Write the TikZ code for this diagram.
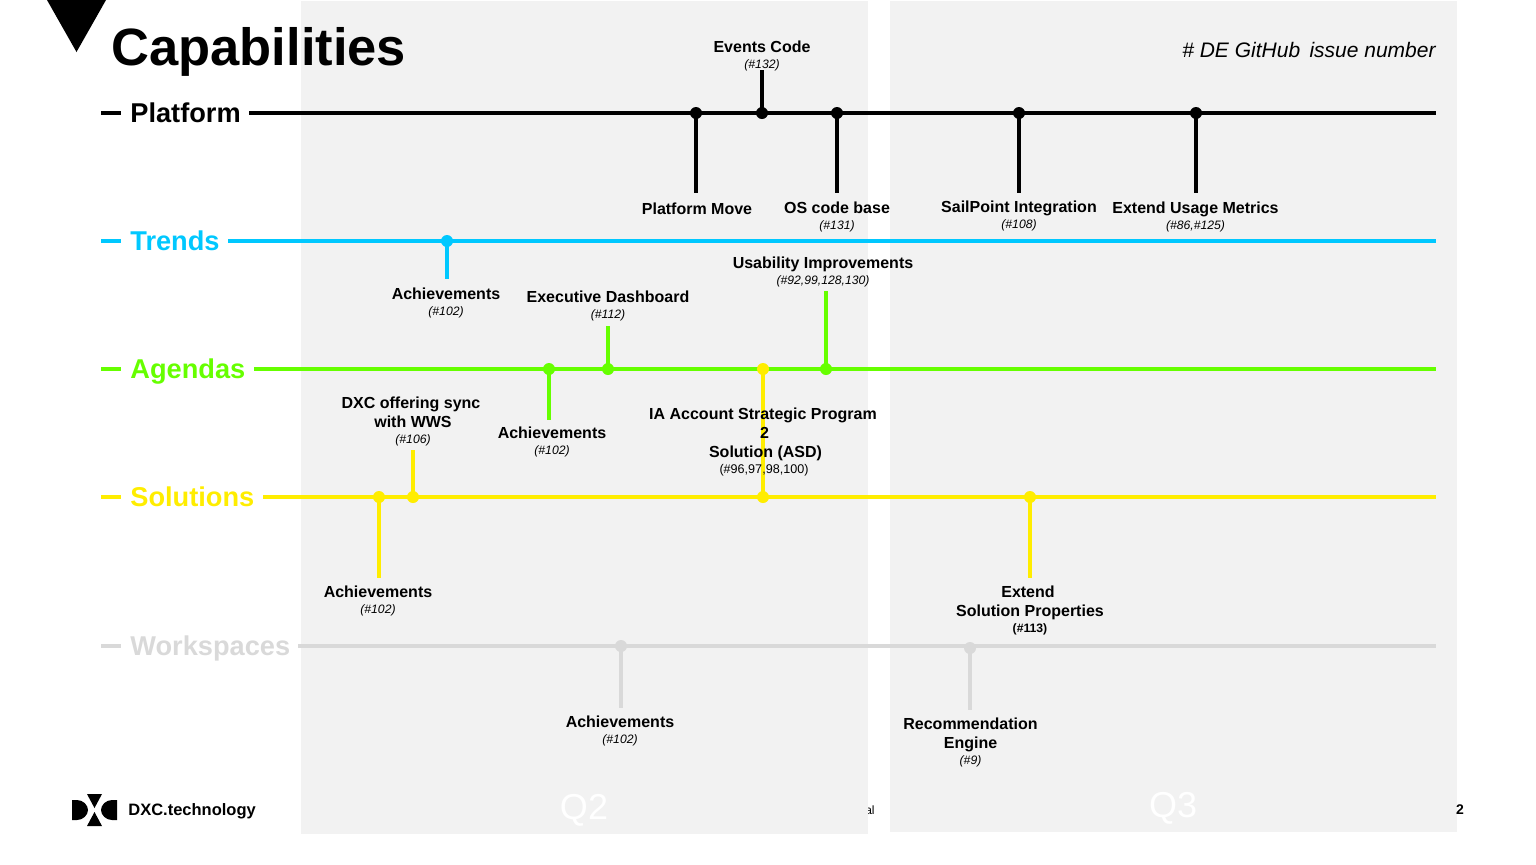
\documentclass[tikz,border=0pt]{standalone}
\usepackage{fontspec}
\setmainfont{Liberation Sans}
\definecolor{band}{HTML}{F2F2F2}
\definecolor{ctrends}{HTML}{00C8FF}
\definecolor{cagendas}{HTML}{66FF00}
\definecolor{csolutions}{HTML}{FFED00}
\definecolor{cworkspaces}{HTML}{D9D9D9}
\newcommand{\smallref}[1]{{\fontsize{6.1}{7.5}\selectfont\mdseries\itshape #1}}
\newcommand{\plainref}[1]{{\fontsize{6.3}{7.5}\selectfont\mdseries #1}}
\tikzset{
  x=0.5pt,y=-0.5pt,
  trackline/.style={line width=2pt},
  stemline/.style={line width=2pt},
  stemdot/.style={circle,fill=#1,draw=none,inner sep=0pt,minimum size=6pt},
  tracklabel/.style={font=\fontsize{13.6}{16}\selectfont\bfseries,anchor=base west,inner sep=0pt},
  itemlabel/.style={font=\fontsize{8}{9.5}\selectfont\bfseries,align=center,anchor=center,inner sep=0pt,text=black},
  quarter/.style={font=\fontsize{18}{20}\selectfont,text=white,inner sep=0pt},
}
\begin{document}
\begin{tikzpicture}
\useasboundingbox (0,0) rectangle (1536,864);
\node[font=\fontsize{6}{7}\selectfont,anchor=east,inner sep=0pt] (conf) at (875,810) {al};
\fill[band] (301,1) rectangle (868,834);
\fill[band] (890,1) rectangle (1457,832);
\node[quarter] (q2) at (584,810) {Q2};
\node[quarter] (q3) at (1173,808) {Q3};
\node[font=\fontsize{7}{8}\selectfont\bfseries,inner sep=0pt] (pageno) at (1460,810) {2};
\fill (47,0) -- (106,0) -- (76.5,52) -- cycle;
\node[font=\fontsize{26.25}{30}\selectfont\bfseries,anchor=west,inner sep=0pt] (title) at (111,52) {Capabilities};
\node[font=\fontsize{10.5}{12}\selectfont\itshape,anchor=east,inner sep=0pt] (legend) at (1436,50) {\# DE GitHub\, issue number};
% tracks
\foreach \y/\c/\t/\a/\nm in {113/black/Platform/249/pf,241/ctrends/Trends/228/tr,369/cagendas/Agendas/254/ag,497/csolutions/Solutions/263/so,646/cworkspaces/Workspaces/298/ws}{
  \coordinate (\nm L0) at (101,\y);
  \coordinate (\nm L1) at (121,\y);
  \coordinate (\nm A) at (\a,\y);
  \coordinate (\nm B) at (1436,\y);
  \draw[trackline,\c] (\nm L0) -- (\nm L1);
  \draw[trackline,\c] (\nm A) -- (\nm B);
  \node[tracklabel,text=\c] (\nm T) at (130,\y+9.8) {\t};
}
\foreach \n/\x/\ya/\yb/\c in {
  p1/696/113/193/black,p2/762/113/70/black,p3/837/113/193/black,p4/1019/113/193/black,p5/1196/113/193/black,
  t1/447/241/279/ctrends,
  a1/549/369/420/cagendas,a2/608/369/326/cagendas,a3/826/369/291/cagendas,
  s1/379/497/578/csolutions,s2/413/497/450/csolutions,s4/1030/497/578/csolutions,
  w1/621/646/708/cworkspaces,w2/970/648/710/cworkspaces}{
  \node[stemdot=\c] (\n d) at (\x,\ya) {};
  \coordinate (\n e) at (\x,\yb);
  \draw[stemline,\c] (\n d.center) -- (\n e);
}
\node[stemdot=csolutions] (s3d) at (763,497) {};
\node[stemdot=csolutions] (s3t) at (763,369) {};
\draw[stemline,csolutions] (s3d.center) -- (s3t.center);
% labels
\node[itemlabel] (lp2) at (762,55.5) {Events Code\\[-1.5pt]\smallref{(\#132)}};
\node[itemlabel] (lp1) at (697,209) {Platform Move};
\node[itemlabel] (lp3) at (837,216.5) {OS code base\\[-1.5pt]\smallref{(\#131)}};
\node[itemlabel] (lp4) at (1019,215.5) {SailPoint Integration\\[-1.5pt]\smallref{(\#108)}};
\node[itemlabel] (lp5) at (1195.5,216.5) {Extend Usage Metrics\\[-1.5pt]\smallref{(\#86,\#125)}};
\node[itemlabel] (lt1) at (446,302.5) {Achievements\\[-1.5pt]\smallref{(\#102)}};
\node[itemlabel] (la2) at (608,305.5) {Executive Dashboard\\[-1.5pt]\smallref{(\#112)}};
\node[itemlabel] (la3) at (823,271.5) {Usability Improvements\\[-1.5pt]\smallref{(\#92,99,128,130)}};
\node[itemlabel] (la1) at (552,441.5) {Achievements\\[-1.5pt]\smallref{(\#102)}};
\node[itemlabel] (ls2) at (411,421) {DXC offering sync\\\hspace{2pt}with WWS\\[-1.5pt]\hspace{2pt}\smallref{(\#106)}};
\node[itemlabel] (ls3) at (763,441.5) {IA Account Strategic Program\\\hspace{1.5pt}2\\\hspace{2.5pt}Solution (ASD)\\[-1.5pt]\hspace{1pt}\plainref{(\#96,97,98,100)}};
\node[itemlabel] (ls1) at (378,600.5) {Achievements\\[-1.5pt]\smallref{(\#102)}};
\node[itemlabel] (ls4) at (1030,610) {\hspace{-2pt}Extend\\Solution Properties\\[-1.5pt]{\fontsize{6.1}{7.5}\selectfont\bfseries (\#113)}};
\node[itemlabel] (lw1) at (620,730.5) {Achievements\\[-1.5pt]\smallref{(\#102)}};
\node[itemlabel] (lw2) at (970.5,742) {Recommendation\\Engine\\[-1.5pt]\smallref{(\#9)}};
% logo
\fill (72,800) -- (77,800) .. controls (83,800) and (88,805) .. (88,810) .. controls (88,815) and (83,820) .. (77,820) -- (72,820) -- cycle;
\fill (117,800) -- (112,800) .. controls (106,800) and (101,805) .. (101,810) .. controls (101,815) and (106,820) .. (112,820) -- (117,820) -- cycle;
\fill (87,794) -- (102,794) -- (94.5,808) -- cycle;
\fill (87,826) -- (102,826) -- (94.5,812) -- cycle;
\node[font=\fontsize{8.25}{10}\selectfont\bfseries,anchor=west,inner sep=0pt] (logo) at (128,811.5) {DXC.technology};
\end{tikzpicture}
\end{document}
